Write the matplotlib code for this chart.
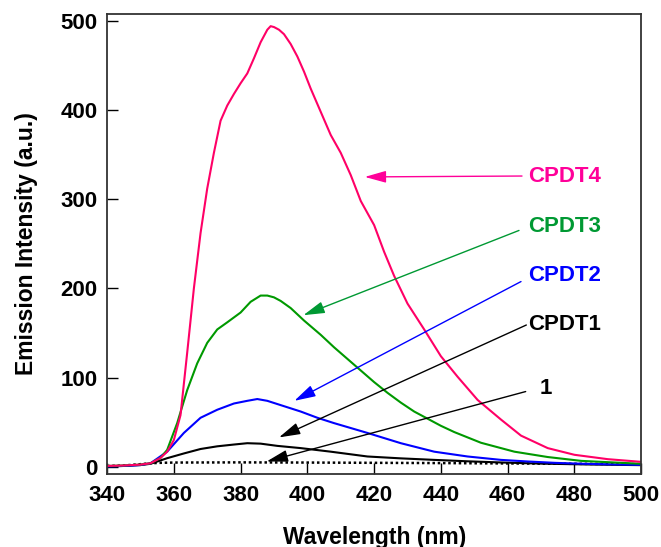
import matplotlib
matplotlib.use('Agg')
import matplotlib.pyplot as plt

plt.rcParams['font.family'] = ['Liberation Sans', 'DejaVu Sans']
plt.rcParams['font.weight'] = 'bold'

# CPDT4 (pink)
wl4 = [340, 345, 350, 353, 356, 358, 360, 362, 364, 366, 368, 370, 372, 374, 376,
       378, 380, 382, 384, 386, 388, 389, 390, 391.5, 393, 395, 397, 399, 401, 404,
       407, 410, 413, 416, 420, 423, 426, 430, 435, 440, 445, 451, 458, 464, 472,
       480, 490, 500]
int4 = [1, 1.5, 2.5, 4, 10, 17, 30, 58, 128, 200, 262, 312, 352, 388, 405,
        418, 430, 441, 458, 476, 490, 494, 493, 490, 485, 474, 460, 443, 424, 398,
        372, 352, 327, 298, 271, 241, 214, 183, 154, 124, 101, 75, 53, 35, 21,
        13.5, 8.6, 5.6]

# CPDT3 (green)
wl3 = [340, 345, 350, 353, 356, 358, 361, 364, 367, 370, 373, 376, 380, 383, 386,
       388, 390, 392, 395, 399, 404, 408, 412, 416, 420, 424, 428, 432, 436, 440,
       444, 452, 462, 472, 482, 500]
int3 = [1, 1.5, 2.5, 4, 10, 19, 49, 86, 116, 139, 154, 162, 173, 185, 192,
        192, 190, 186, 178, 164, 148, 134, 121, 108, 95, 83, 72, 62, 54, 46,
        39, 27, 17, 11, 6.7, 3.4]

# CPDT2 (blue)
wl2 = [340, 345, 350, 353, 358, 363, 368, 373, 378, 382, 385, 388, 393, 398, 403,
       408, 418, 428, 438, 448, 458, 466, 474, 482, 490, 500]
int2 = [0.5, 1, 2, 4, 17, 38, 55, 64, 71, 74, 76, 74, 68, 62, 55,
        49, 38, 26.5, 17, 11.6, 7.8, 6, 4.5, 3.5, 2.8, 2.2]

# CPDT1 (black)
wl1 = [340, 345, 350, 353, 358, 363, 368, 373, 378, 382, 386, 391, 398, 407, 418,
       428, 438, 448, 458, 470, 485, 500]
int1 = [0.5, 1, 2, 3.4, 9.7, 15, 20, 23, 25, 26.5, 26, 23.5, 21, 17, 11.6,
        9.5, 7.8, 6.2, 4.9, 3.6, 2.6, 1.9]

# compound 1 (dotted)
wl0 = [340, 345, 350, 353, 356, 360, 380, 400, 440, 470, 500]
int0 = [1, 1.5, 3, 4, 4.5, 4.8, 5, 4.8, 4.2, 3.6, 3]

# labels: (text, label x, label y, arrow tail x, tail y, tip x, tip y, color)
labels = [
    ('CPDT4', 466.0, 326, 464.3, 326, 417.2, 325, '#ff0099'),
    ('CPDT3', 466.0, 269, 463.4, 265, 398.8, 170, '#009933'),
    ('CPDT2', 466.0, 214, 464.0, 207.7, 396.1, 74, '#0000ff'),
    ('CPDT1', 466.0, 160, 465.6, 159, 391.5, 33, 'black'),
    ('1', 469.6, 88, 465.4, 84.4, 387.8, 6, 'black'),
]

fig = plt.figure(figsize=(6.61, 5.47), dpi=100)
ax = fig.add_axes([0.162, 0.1335, 0.808, 0.8415])

ax.plot(wl0, int0, color='black', lw=1.8, ls=(0, (1, 1.1)))
ax.plot(wl1, int1, color='black', lw=1.5)
ax.plot(wl2, int2, color='#0000ff', lw=1.5)
ax.plot(wl3, int3, color='#009900', lw=1.5)
ax.plot(wl4, int4, color='#ff0066', lw=1.5)

for txt, lx, ly, tx, ty, hx, hy, c in labels:
    ax.annotate('', xy=(hx, hy), xytext=(tx, ty),
                arrowprops=dict(arrowstyle='-|>,head_length=1.0,head_width=0.28',
                                mutation_scale=13, color=c, lw=1.0,
                                shrinkA=0, shrinkB=0))
    ax.text(lx, ly, txt, color=c, fontsize=16, fontweight='bold',
            ha='left', va='center')

ax.set_xlim(340, 500)
ax.set_ylim(-8, 508)
ax.set_xticks(range(340, 501, 20))
ax.set_yticks(range(0, 501, 100))
ax.tick_params(direction='in', length=8, width=1, labelsize=16, pad=8)
ax.tick_params(axis='y', pad=7)
for s in ax.spines.values():
    s.set_linewidth(1.3)
    s.set_color('#333333')

ax.set_xlabel('Wavelength (nm)', fontsize=16.5, fontweight='bold', labelpad=14)
ax.set_ylabel('Emission Intensity (a.u.)', fontsize=16.5, fontweight='bold', labelpad=16)

fig.savefig('out.png', dpi=100)
